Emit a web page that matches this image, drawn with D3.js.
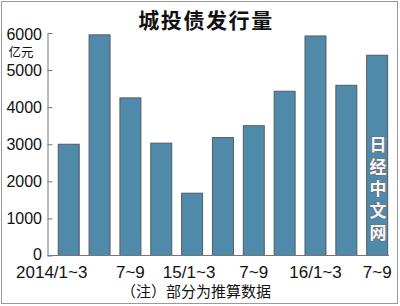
<!DOCTYPE html>
<html>
<head>
<meta charset="utf-8">
<script src="https://cdn.jsdelivr.net/npm/d3@7"></script>
<style>
html,body{margin:0;padding:0;background:#fff;}
svg{display:block;}
</style>
</head>
<body>
<script>
const categories = ["2014Q1","2014Q2","2014Q3","2014Q4","2015Q1","2015Q2","2015Q3","2015Q4","2016Q1","2016Q2","2016Q3"];
const values = [3000, 5950, 4250, 3030, 1680, 3180, 3500, 4430, 5920, 4590, 5400];
const xTickLabels = ["2014/1~3","","7~9","","15/1~3","","7~9","","16/1~3","","7~9"];
const yTicks = [0, 1000, 2000, 3000, 4000, 5000, 6000];
const title = "城投债发行量";
const unit = "亿元";
const note = "（注）部分为推算数据";
const watermark = ["日","经","中","文","网"];

const W = 400, H = 306;
const svg = d3.select("body").append("svg").attr("width", W).attr("height", H);
const latin = "'Liberation Sans', Arial, sans-serif";
const cjk = "'Noto Sans CJK SC', sans-serif";

// frame
svg.append("rect").attr("x", 1.5).attr("y", 1.5).attr("width", 396).attr("height", 302)
  .attr("fill", "none").attr("stroke", "#9a9a9a").attr("stroke-width", 1);

const x = d3.scaleBand().domain(categories).range([53.3, 392.6]).paddingInner(0.32).paddingOuter(0.16);
const y = d3.scaleLinear().domain([0, 6000]).range([255.5, 33]);

// title
svg.append("text").attr("x", 206).attr("y", 28).attr("text-anchor", "middle")
  .attr("font-family", cjk).attr("font-weight", "bold").attr("font-size", 21)
  .attr("letter-spacing", 1.6).attr("fill", "#111").text(title);

// bars
svg.append("g").selectAll("rect").data(values).join("rect")
  .attr("x", (d, i) => x(categories[i]))
  .attr("y", d => y(d))
  .attr("width", x.bandwidth())
  .attr("height", d => y(0) - y(d))
  .attr("fill", "#4f8aab")
  .attr("stroke", "#545b60")
  .attr("stroke-width", 1);

// y axis
const yAxis = d3.axisLeft(y).tickValues(yTicks).tickSizeInner(-5).tickSizeOuter(0).tickPadding(5.5).tickFormat(d3.format("d"));
const gy = svg.append("g").attr("transform", "translate(47.5,0)").call(yAxis);
gy.select(".domain").attr("stroke", "#777");
gy.selectAll(".tick line").attr("stroke", "#777");
gy.selectAll(".tick text").attr("font-family", latin).attr("font-size", 16).attr("fill", "#111")
  .attr("dy", d => d === 6000 ? "0.38em" : (d === 0 ? "0.22em" : "0.32em"));

// unit
svg.append("text").attr("x", 21).attr("y", 56.5).attr("text-anchor", "middle")
  .attr("font-family", cjk).attr("font-size", 12.5).attr("fill", "#111").text(unit);

// baseline
svg.append("line").attr("x1", 47.5).attr("x2", 389).attr("y1", 255.5).attr("y2", 255.5)
  .attr("stroke", "#777");

// x axis
const xAxis = d3.axisBottom(x).tickSize(0).tickPadding(10).tickFormat((d, i) => xTickLabels[i]);
const gx = svg.append("g").attr("transform", "translate(0,255.5)").call(xAxis);
gx.select(".domain").remove();
gx.selectAll(".tick text").attr("font-family", latin).attr("font-size", 17).attr("fill", "#111")
  .attr("dx", (d, i) => i === 0 ? -17 : (i === 4 ? -3 : 0));

// note
svg.append("text").attr("x", 196).attr("y", 297).attr("text-anchor", "middle")
  .attr("font-family", cjk).attr("font-size", 15).attr("fill", "#111").text(note);

// watermark (vertical text)
svg.append("text")
  .attr("x", 378).attr("y", 136)
  .attr("writing-mode", "vertical-rl")
  .style("writing-mode", "vertical-rl")
  .attr("letter-spacing", 5)
  .attr("font-family", cjk).attr("font-weight", "bold").attr("font-size", 17)
  .attr("fill", "#f4f6f8").attr("stroke", "#6d7378").attr("stroke-width", 1.6)
  .attr("paint-order", "stroke")
  .text(watermark.join(""));
</script>
</body>
</html>
